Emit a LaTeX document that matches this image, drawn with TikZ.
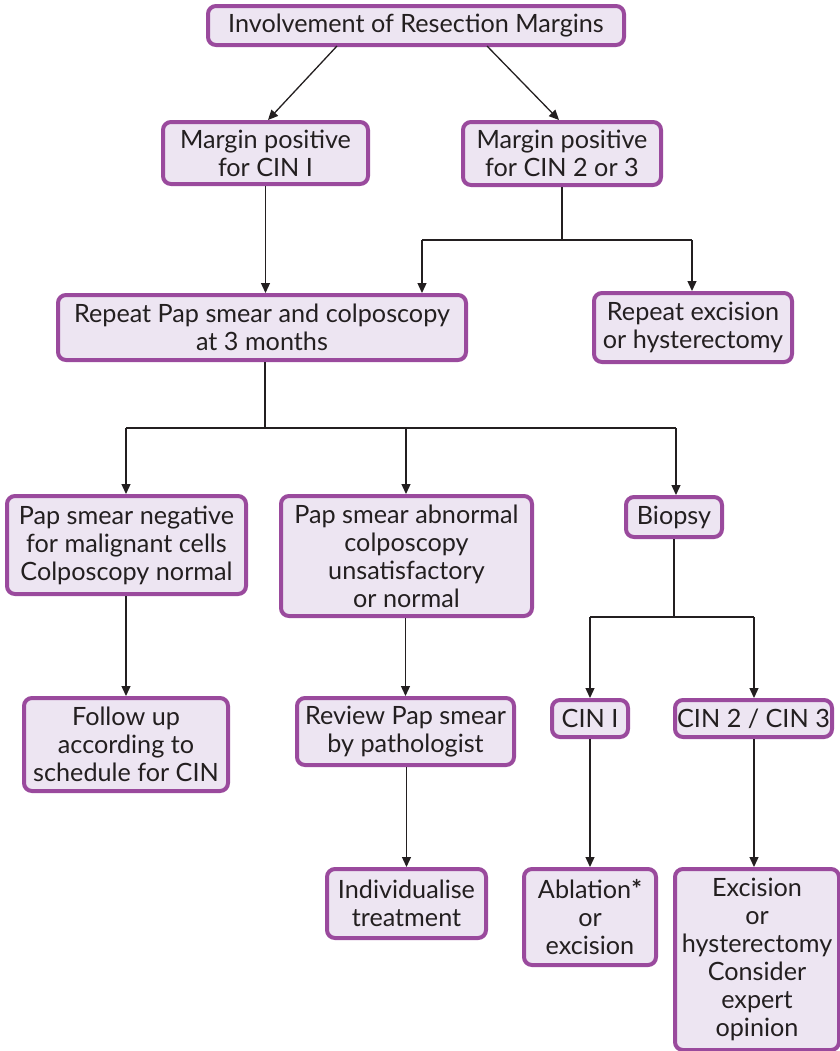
\documentclass[tikz,border=0pt]{standalone}
\usepackage{fontspec}
\setmainfont{Lato}
\usetikzlibrary{arrows.meta}
\definecolor{boxfill}{HTML}{EDE5F2}
\definecolor{boxline}{HTML}{9A4A9D}
\definecolor{ink}{HTML}{231F20}
\begin{document}
\begin{tikzpicture}[x=0.5pt,y=-0.5pt,
  box/.style={draw=boxline, fill=boxfill, line width=2pt, rounded corners=4pt,
    align=center, text=ink, inner sep=0pt,
    font=\fontsize{12.6pt}{14pt}\selectfont},
  link/.style={draw=ink, line width=0.65pt},
  arr/.style={link, -{Triangle[length=5pt,width=4.5pt]}}]
\useasboundingbox (0,0) rectangle (840,1051);

% boxes
\node[box, minimum width=208pt, minimum height=19.5pt] (top) at (416,25.5) {Involvement of Resection Margins};
\node[box, minimum width=102.5pt, minimum height=31pt] (m1) at (265.5,153) {Margin positive\\for CIN I};
\node[box, minimum width=99pt, minimum height=31.5pt] (m23) at (562,153.5) {Margin positive\\for CIN 2 or 3};
\node[box, minimum width=204pt, minimum height=32.5pt] (rep) at (262,327.5) {Repeat Pap smear and colposcopy\\at 3 months};
\node[box, minimum width=99pt, minimum height=34.5pt] (rex) at (693,327.5) {Repeat excision\\or hysterectomy};
\node[box, minimum width=119.5pt, minimum height=49pt] (neg) at (126.5,545) {Pap smear negative\\for malignant cells\\Colposcopy normal};
\node[box, minimum width=125.5pt, minimum height=60pt] (abn) at (406.5,556) {Pap smear abnormal\\colposcopy\\unsatisfactory\\or normal};
\node[box, minimum width=48pt, minimum height=20pt] (bio) at (674,517) {Biopsy};
\node[box, minimum width=102pt, minimum height=46.5pt] (fol) at (126,744.5) {Follow up\\according to\\schedule for CIN};
\node[box, minimum width=108.5pt, minimum height=33.5pt] (rev) at (405.5,731.5) {Review Pap smear\\by pathologist};
\node[box, minimum width=38pt, minimum height=18.5pt] (c1) at (590,718.5) {CIN I};
\node[box, minimum width=78.5pt, minimum height=18.5pt] (c23) at (753.5,718.5) {CIN 2 / CIN 3};
\node[box, minimum width=79.5pt, minimum height=34.5pt] (ind) at (406.5,903.5) {Individualise\\treatment};
\node[box, minimum width=66pt, minimum height=48pt] (abl) at (590,917) {Ablation{\bfseries*}\\or\\excision};
\node[box, minimum width=82pt, minimum height=90.5pt] (exc) at (757,959.5) {Excision\\or\\hysterectomy\\Consider\\expert\\opinion};

% junction points
\coordinate (j1) at (562,240);
\coordinate (j1l) at (422,240);
\coordinate (j1r) at (692,240);
\coordinate (j2) at (265,428);
\coordinate (j2l) at (126,428);
\coordinate (j2m) at (406,428);
\coordinate (j2r) at (676,428);
\coordinate (j3) at (674,617);
\coordinate (j3l) at (590,617);
\coordinate (j3r) at (754,617);

% connectors
\draw[arr] (337,46) -- (268,120);
\draw[arr] (487,46) -- (559,120);
\draw[arr] (m1.south) -- (m1.south |- rep.north);
\draw[link] (m23.south) -- (j1);
\draw[link] (j1l) -- (j1r);
\draw[arr] (j1l) -- (j1l |- rep.north);
\draw[arr] (j1r) -- (j1r |- rex.north);
\draw[link] (rep.south -| j2) -- (j2);
\draw[link] (j2l) -- (j2r);
\draw[arr] (j2l) -- (j2l |- neg.north);
\draw[arr] (j2m) -- (j2m |- abn.north);
\draw[arr] (j2r) -- (j2r |- bio.north);
\draw[arr] (neg.south -| fol.north) -- (fol.north);
\draw[arr] (abn.south -| rev.north) -- (rev.north);
\draw[arr] (rev.south -| ind.north) -- (ind.north);
\draw[link] (bio.south) -- (j3);
\draw[link] (j3l) -- (j3r);
\draw[arr] (j3l) -- (j3l |- c1.north);
\draw[arr] (j3r) -- (j3r |- c23.north);
\draw[arr] (c1.south) -- (c1.south |- abl.north);
\draw[arr] (c23.south -| j3r) -- (j3r |- exc.north);
\end{tikzpicture}
\end{document}
